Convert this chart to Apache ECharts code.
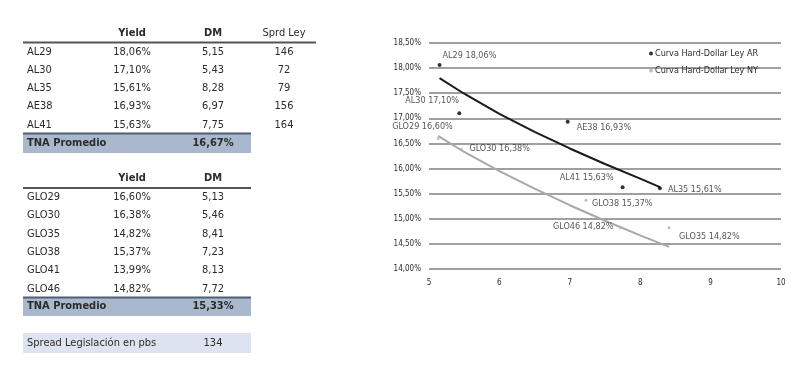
<!DOCTYPE html>
<html>
<head>
<meta charset="utf-8">
<script src="https://cdn.jsdelivr.net/npm/echarts@6/dist/echarts.min.js"></script>
<style>
html,body{margin:0;padding:0;background:#fff;}
#c{width:800px;height:368px;}
</style>
</head>
<body>
<div id="c"></div>
<script>
// ---- Table data ----
var arHeaders = ['Yield', 'DM', 'Sprd Ley'];
var arNames = ['AL29', 'AL30', 'AL35', 'AE38', 'AL41'];
var arYield = [18.06, 17.10, 15.61, 16.93, 15.63];
var arDM = [5.15, 5.43, 8.28, 6.97, 7.75];
var arSprd = [146, 72, 79, 156, 164];
var arAvg = '16,67%';

var nyHeaders = ['Yield', 'DM'];
var nyNames = ['GLO29', 'GLO30', 'GLO35', 'GLO38', 'GLO41', 'GLO46'];
var nyYield = [16.60, 16.38, 14.82, 15.37, 13.99, 14.82];
var nyDM = [5.13, 5.46, 8.41, 7.23, 8.13, 7.72];
var nyAvg = '15,33%';

var spreadLabel = 'Spread Legislación en pbs';
var spreadValue = 134;

// ---- Trend curves ----
var arTrendDM = [5.15, 5.5, 6, 6.5, 7, 7.5, 8, 8.28];
var arTrendY = [17.80, 17.49, 17.09, 16.73, 16.40, 16.09, 15.80, 15.63];
var nyTrendDM = [5.13, 5.5, 6, 6.5, 7, 7.5, 8, 8.41];
var nyTrendY = [16.65, 16.33, 15.95, 15.60, 15.27, 14.96, 14.67, 14.44];

var yTicks = [14, 14.5, 15, 15.5, 16, 16.5, 17, 17.5, 18, 18.5];
var legendAR = 'Curva Hard-Dollar Ley AR';
var legendNY = 'Curva Hard-Dollar Ley NY';

// label placement (style only): [dx, dy, align]
var arLabelPos = {AL29:[3,-9.5,'left'], AL30:[-54,-13,'left'], AL35:[8,2,'left'], AE38:[9,6,'left'], AL41:[-9,-9,'right']};
var nyLabelPos = {GLO29:[-46,-11.5,'left'], GLO30:[8,-1,'left'], GLO35:[10,9,'left'], GLO38:[6,3,'left'], GLO41:[6,0,'left'], GLO46:[-7,-1,'right']};

function fmt(v, d) { return v.toFixed(d).replace('.', ','); }

var FONT = '"DejaVu Sans Condensed", "DejaVu Sans", sans-serif';
var TXT = '#2b2b2b';

function txt(x, y, s, align, bold, size) {
  return {type:'text', x:x, y:y, style:{text:s, fill:TXT, font:(bold?'bold ':'') + (size||11) + 'px ' + FONT, textAlign:align||'left', textVerticalAlign:'middle'}};
}

var g = [];
// Table 1
var colX = [27, 132, 213, 284];
g.push(txt(colX[1], 33, arHeaders[0], 'center', true));
g.push(txt(colX[2], 33, arHeaders[1], 'center', true));
g.push(txt(colX[3], 33, arHeaders[2], 'center', false));
g.push({type:'line', shape:{x1:23, y1:42.5, x2:316, y2:42.5}, style:{stroke:'#555', lineWidth:2}});
for (var i = 0; i < arNames.length; i++) {
  var y = 52 + i * 18.2;
  g.push(txt(colX[0], y, arNames[i], 'left'));
  g.push(txt(colX[1], y, fmt(arYield[i], 2) + '%', 'center'));
  g.push(txt(colX[2], y, fmt(arDM[i], 2), 'center'));
  g.push(txt(colX[3], y, String(arSprd[i]), 'center'));
}
g.push({type:'rect', shape:{x:23, y:133, width:228, height:20}, style:{fill:'#a9b8cc'}});
g.push({type:'line', shape:{x1:23, y1:133.5, x2:251, y2:133.5}, style:{stroke:'#4f5f75', lineWidth:2}});
g.push(txt(27, 143, 'TNA Promedio', 'left', true));
g.push(txt(213, 143, arAvg, 'center', true));

// Table 2
g.push(txt(colX[1], 178, nyHeaders[0], 'center', true));
g.push(txt(colX[2], 178, nyHeaders[1], 'center', true));
g.push({type:'line', shape:{x1:23, y1:188, x2:251, y2:188}, style:{stroke:'#555', lineWidth:2}});
for (var j = 0; j < nyNames.length; j++) {
  var y2 = 197 + j * 18.4;
  g.push(txt(colX[0], y2, nyNames[j], 'left'));
  g.push(txt(colX[1], y2, fmt(nyYield[j], 2) + '%', 'center'));
  g.push(txt(colX[2], y2, fmt(nyDM[j], 2), 'center'));
}
g.push({type:'rect', shape:{x:23, y:297, width:228, height:19}, style:{fill:'#a9b8cc'}});
g.push({type:'line', shape:{x1:23, y1:297.5, x2:251, y2:297.5}, style:{stroke:'#4f5f75', lineWidth:2}});
g.push(txt(27, 306.5, 'TNA Promedio', 'left', true));
g.push(txt(213, 306.5, nyAvg, 'center', true));
g.push({type:'rect', shape:{x:23, y:333, width:228, height:20}, style:{fill:'#dde4f0'}});
g.push(txt(27, 343, spreadLabel, 'left'));
g.push(txt(213, 343, String(spreadValue), 'center'));

function pts(names, dm, yl, posMap) {
  return names.map(function (n, k) {
    var p = posMap[n];
    return {value:[dm[k], yl[k]], name:n,
      label:{show:true, position:'inside', offset:[p[0], p[1]], align:p[2], verticalAlign:'middle',
        formatter: n + ' ' + fmt(yl[k], 2) + '%', color:TXT, fontSize:9, fontFamily:FONT}};
  });
}
function zip(a, b) { return a.map(function (v, k) { return [v, b[k]]; }); }

var chart = echarts.init(document.getElementById('c'), null, {renderer:'canvas'});
chart.setOption({
  animation:false,
  backgroundColor:'#fff',
  textStyle:{fontFamily:FONT},
  graphic:g,
  legend:{
    data:[legendAR, legendNY], orient:'vertical', left:644, top:44, itemGap:8,
    itemWidth:4, itemHeight:4, icon:'circle',
    textStyle:{fontSize:9, color:TXT, fontFamily:FONT, padding:[0,0,0,-3]}
  },
  grid:{left:429, right:19, top:43, bottom:99, containLabel:false},
  xAxis:{type:'value', min:5, max:10, interval:1,
    axisLine:{show:false}, axisTick:{show:false}, splitLine:{show:false},
    axisLabel:{fontSize:8, color:TXT, margin:10, fontFamily:FONT}},
  yAxis:{type:'value', min:14, max:18.5, interval:0.5,
    axisLine:{show:false}, axisTick:{show:false},
    splitLine:{show:true, lineStyle:{color:'#a0a0a0', width:2}},
    axisLabel:{fontSize:8, color:TXT, margin:8, fontFamily:FONT,
      formatter:function (v) { return yTicks.indexOf(v) >= 0 ? fmt(v, 2) + '%' : ''; }}},
  series:[
    {type:'line', name:'trendAR', data:zip(arTrendDM, arTrendY), smooth:false, symbol:'none',
      lineStyle:{color:'#1a1a1a', width:2, join:'round'}, z:3},
    {type:'line', name:'trendNY', data:zip(nyTrendDM, nyTrendY), smooth:false, symbol:'none',
      lineStyle:{color:'#a8a8a8', width:2, join:'round'}, z:3},
    {type:'scatter', name:legendAR, data:pts(arNames, arDM, arYield, arLabelPos), symbol:'circle', symbolSize:4,
      itemStyle:{color:'#000'}, z:4},
    {type:'scatter', name:legendNY, data:pts(nyNames, nyDM, nyYield, nyLabelPos), symbol:'circle', symbolSize:3,
      itemStyle:{color:'#b0b0b0'}, z:4, clip:true}
  ]
});
</script>
</body>
</html>
